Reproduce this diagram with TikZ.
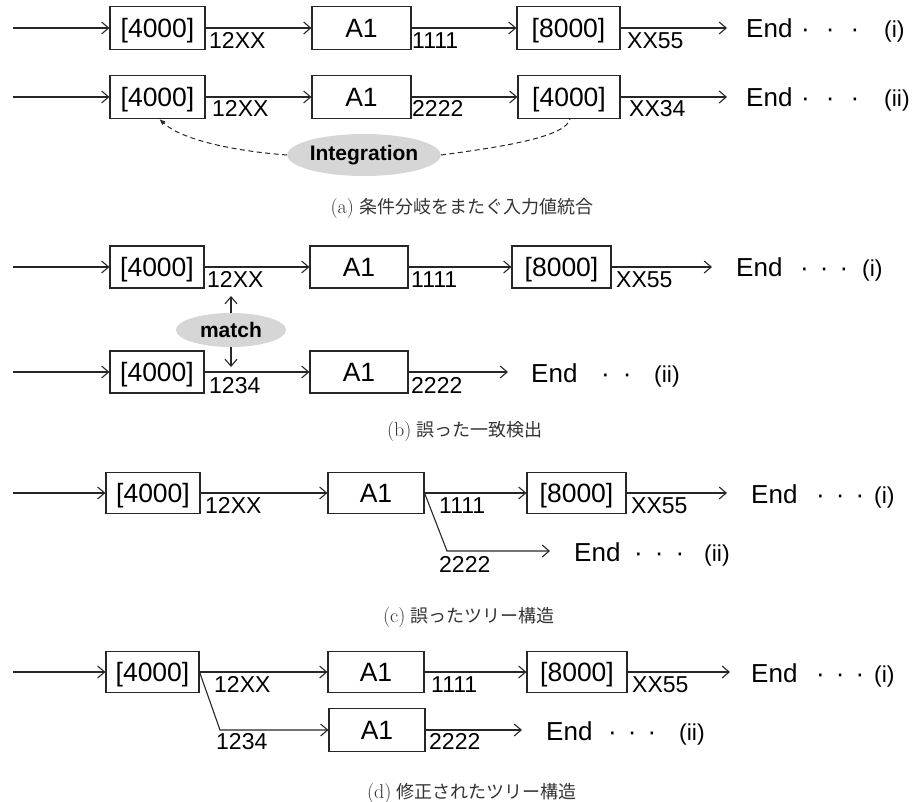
\documentclass[tikz,border=0pt]{standalone}
\usepackage{fontspec}
\newfontfamily\diafont{Liberation Sans}
\newfontfamily\cjk{Noto Sans CJK JP}
\usetikzlibrary{arrows.meta,shapes.geometric}

\tikzset{
  wire/.style={draw=black!85, line width=1.1pt},
  flow/.style={wire, -{Straight Barb[length=7pt,width=12pt]}},
  box/.style={draw=black!85, line width=1.1pt, minimum height=43pt, inner sep=0pt,
    text height=19pt, text depth=0pt,
    font=\diafont\fontsize{26.5}{30}\selectfont},
  lbl/.style={anchor=base west, inner sep=0pt, font=\diafont\fontsize{23}{26}\selectfont},
  tailtxt/.style={anchor=base west, inner sep=0pt, font=\diafont\fontsize{26}{30}\selectfont},
  tagtxt/.style={anchor=base west, inner sep=0pt, font=\diafont\fontsize{23}{26}\selectfont},
  bubble/.style={ellipse, fill=black!16, inner sep=0pt,
    font=\diafont\bfseries\fontsize{21}{25}\selectfont},
  captxt/.style={inner sep=0pt, font=\fontsize{18}{22}\selectfont, text=black!80},
  linkdash/.style={wire, line width=1pt, dash pattern=on 5pt off 3.5pt},
}
\newcommand{\dotsep}[1]{·\hspace{#1}·\hspace{#1}·}
\newcommand{\capmark}[1]{{\fontsize{20}{22}\selectfont(#1)}\ }

\begin{document}
\begin{tikzpicture}[x=1pt,y=-1pt]
\useasboundingbox (0,0) rectangle (913,802);

% ---------- (a) row i ----------
\coordinate (ai-in) at (13,28);
\node[box, minimum width=95pt]  (ai-b1) at (157.5,28) {[4000]};
\node[box, minimum width=99pt]  (ai-b2) at (361.5,28) {A1};
\node[box, minimum width=103pt] (ai-b3) at (568.5,28) {[8000]};
\coordinate (ai-out) at (727,28);
\draw[flow] (ai-in) -- (ai-b1);
\draw[flow] (ai-b1) -- (ai-b2);
\draw[flow] (ai-b2) -- (ai-b3);
\draw[flow] (ai-b3) -- (ai-out);
\node[lbl] (ai-l1) at (209,49) {12XX};
\node[lbl] (ai-l2) at (412,49) {1111};
\node[lbl] (ai-l3) at (627,49) {XX55};
\node[tailtxt] (ai-end) at (746,38) {End};
\node[tailtxt] (ai-dots) at (801,38) {\dotsep{16pt}};
\node[tagtxt] (ai-tag) at (884,38) {(i)};

% ---------- (a) row ii ----------
\coordinate (aii-in) at (13,97);
\node[box, minimum width=95pt]  (aii-b1) at (157.5,97) {[4000]};
\node[box, minimum width=99pt]  (aii-b2) at (361.5,97) {A1};
\node[box, minimum width=102pt] (aii-b3) at (569,97) {[4000]};
\coordinate (aii-out) at (727,97);
\draw[flow] (aii-in) -- (aii-b1);
\draw[flow] (aii-b1) -- (aii-b2);
\draw[flow] (aii-b2) -- (aii-b3);
\draw[flow] (aii-b3) -- (aii-out);
\node[lbl] (aii-l1) at (212,117) {12XX};
\node[lbl] (aii-l2) at (412,117) {2222};
\node[lbl] (aii-l3) at (629,117) {XX34};
\node[tailtxt] (aii-end) at (746,107) {End};
\node[tailtxt] (aii-dots) at (801,107) {\dotsep{16pt}};
\node[tagtxt] (aii-tag) at (884,107) {(ii)};

\node[bubble, minimum width=138pt, minimum height=42pt] (integ) at (364,155) {Integration};
\draw[linkdash, -{Latex[length=6pt,width=5pt]}]
  (integ.west) .. controls (232,151) and (180,139) .. ([xshift=2pt]aii-b1.south);
\draw[linkdash]
  (integ.east) .. controls (510,146) and (566,136) .. ([xshift=1pt]aii-b3.south);

\node[captxt] (cap-a) at (462,208) {\capmark{a}{\cjk 条件分岐をまたぐ入力値統合}};

% ---------- (b) row i ----------
\coordinate (bi-in) at (13,267);
\node[box, minimum width=94pt, minimum height=42pt] (bi-b1) at (157,267) {[4000]};
\node[box, minimum width=98pt, minimum height=42pt] (bi-b2) at (359,267) {A1};
\node[box, minimum width=99pt, minimum height=42pt] (bi-b3) at (561.5,267) {[8000]};
\coordinate (bi-out) at (712,267);
\draw[flow] (bi-in) -- (bi-b1);
\draw[flow] (bi-b1) -- (bi-b2);
\draw[flow] (bi-b2) -- (bi-b3);
\draw[flow] (bi-b3) -- (bi-out);
\node[lbl] (bi-l1) at (207,288) {12XX};
\node[lbl] (bi-l2) at (411,288) {1111};
\node[lbl] (bi-l3) at (616,288) {XX55};
\node[tailtxt] (bi-end) at (736,277) {End};
\node[tailtxt] (bi-dots) at (800,277) {\dotsep{11pt}};
\node[tagtxt] (bi-tag) at (862,277) {(i)};

% ---------- (b) row ii ----------
\coordinate (bii-in) at (13,372);
\node[box, minimum width=94pt, minimum height=42pt] (bii-b1) at (157,372) {[4000]};
\node[box, minimum width=98pt, minimum height=42pt] (bii-b2) at (359,372) {A1};
\coordinate (bii-out) at (508,372);
\draw[flow] (bii-in) -- (bii-b1);
\draw[flow] (bii-b1) -- (bii-b2);
\draw[flow] (bii-b2) -- (bii-out);
\node[lbl] (bii-l1) at (209,393) {1234};
\node[lbl] (bii-l2) at (411,393) {2222};
\node[tailtxt] (bii-end) at (531,382) {End};
\node[tailtxt] (bii-dots) at (601,382) {·\hspace{13pt}·};
\node[tagtxt] (bii-tag) at (654,382) {(ii)};

\node[bubble, minimum width=110pt, minimum height=34pt] (match) at (231,330) {match};
\coordinate (b-up) at (231,296);
\coordinate (b-dn) at (231,367);
\draw[flow] (match.north) -- (b-up);
\draw[flow] (match.south) -- (b-dn);

\node[captxt] (cap-b) at (465,431) {\capmark{b}{\cjk 誤った一致検出}};

% ---------- (c) row i ----------
\coordinate (ci-in) at (13,493);
\node[box, minimum width=94pt, minimum height=41pt] (ci-b1) at (153,493) {[4000]};
\node[box, minimum width=96pt, minimum height=41pt] (ci-b2) at (376,493) {A1};
\node[box, minimum width=99pt, minimum height=41pt] (ci-b3) at (576.5,493) {[8000]};
\coordinate (ci-out) at (727,493);
\draw[flow] (ci-in) -- (ci-b1);
\draw[flow] (ci-b1) -- (ci-b2);
\draw[flow] (ci-b2) -- (ci-b3);
\draw[flow] (ci-b3) -- (ci-out);
\node[lbl] (ci-l1) at (205,513) {12XX};
\node[lbl] (ci-l2) at (439,513) {1111};
\node[lbl] (ci-l3) at (631,513) {XX55};
\node[tailtxt] (ci-end) at (751,503) {End};
\node[tailtxt] (ci-dots) at (816,503) {\dotsep{11pt}};
\node[tagtxt] (ci-tag) at (874,503) {(i)};

% ---------- (c) row ii: wrong branch from A1 ----------
\coordinate (c-knee) at (447,551);
\coordinate (cii-out) at (550,551);
\draw[flow] (ci-b2.east) -- (c-knee) -- (cii-out);
\node[lbl] (cii-l1) at (439,572) {2222};
\node[tailtxt] (cii-end) at (574,561) {End};
\node[tailtxt] (cii-dots) at (634,561) {\dotsep{12pt}};
\node[tagtxt] (cii-tag) at (704,561) {(ii)};

\node[captxt] (cap-c) at (469,617) {\capmark{c}{\cjk 誤ったツリー構造}};

% ---------- (d) row i ----------
\coordinate (di-in) at (13,672);
\node[box, minimum width=93pt, minimum height=41pt]  (di-b1) at (152.5,672) {[4000]};
\node[box, minimum width=96pt, minimum height=41pt]  (di-b2) at (376,672) {A1};
\node[box, minimum width=100pt, minimum height=41pt] (di-b3) at (577,672) {[8000]};
\coordinate (di-out) at (730,672);
\draw[flow] (di-in) -- (di-b1);
\draw[flow] (di-b1) -- (di-b2);
\draw[flow] (di-b2) -- (di-b3);
\draw[flow] (di-b3) -- (di-out);
\node[lbl] (di-l1) at (214,692) {12XX};
\node[lbl] (di-l2) at (431,692) {1111};
\node[lbl] (di-l3) at (632,692) {XX55};
\node[tailtxt] (di-end) at (751,682) {End};
\node[tailtxt] (di-dots) at (816,682) {\dotsep{11pt}};
\node[tagtxt] (di-tag) at (874,682) {(i)};

% ---------- (d) row ii: corrected branch from [4000] ----------
\coordinate (d-knee) at (220,730);
\node[box, minimum width=96pt, minimum height=43pt] (dii-b2) at (377,730) {A1};
\coordinate (dii-out) at (522,730);
\draw[flow] (di-b1.east) -- (d-knee) -- (dii-b2);
\draw[flow] (dii-b2) -- (dii-out);
\node[lbl] (dii-l1) at (216,749) {1234};
\node[lbl] (dii-l2) at (429,749) {2222};
\node[tailtxt] (dii-end) at (546,740) {End};
\node[tailtxt] (dii-dots) at (608,740) {\dotsep{11pt}};
\node[tagtxt] (dii-tag) at (679,740) {(ii)};

\node[captxt] (cap-d) at (472,793) {\capmark{d}{\cjk 修正されたツリー構造}};
\end{tikzpicture}
\end{document}
